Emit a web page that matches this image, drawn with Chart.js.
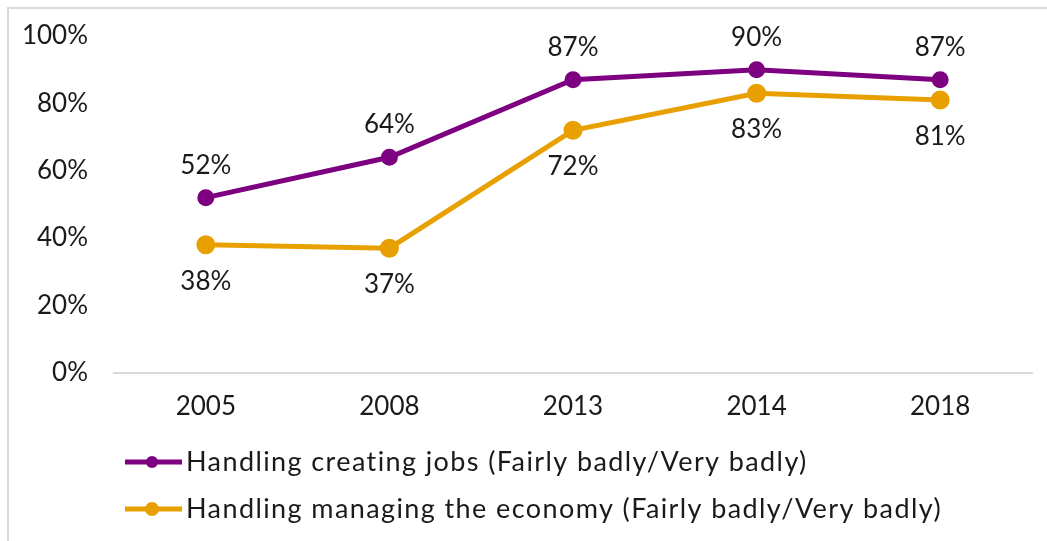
<!DOCTYPE html>
<html>
<head>
<meta charset="utf-8">
<script src="https://cdn.jsdelivr.net/npm/chart.js@4"></script>
<style>
  html, body { margin: 0; padding: 0; background: #fff; overflow: hidden; }
  #frame { position: absolute; left: 7px; top: 7px; width: 1100px; height: 600px; border: 2px solid #d9d9d9; }
  #wrap { position: absolute; left: 0; top: 0; width: 1047px; height: 541px; }
</style>
</head>
<body>
<div id="frame"></div>
<div id="wrap"><canvas id="trendChart"></canvas></div>
<script>
const years = ['2005', '2008', '2013', '2014', '2018'];
const jobsValues = [52, 64, 87, 90, 87];
const economyValues = [38, 37, 72, 83, 81];
const yTicks = [0, 20, 40, 60, 80, 100];
const seriesNames = [
    'Handling creating jobs (Fairly badly/Very badly)',
    'Handling managing the economy (Fairly badly/Very badly)'
];

const FONT = 'Lato, "DejaVu Sans", sans-serif';

// labels above for jobs, below for economy
const pointLabels = {
    id: 'pointLabels',
    afterDatasetsDraw(chart) {
        const ctx = chart.ctx;
        ctx.save();
        ctx.font = '26px ' + FONT;
        ctx.fillStyle = '#1a1a1a';
        ctx.textAlign = 'center';
        ctx.textBaseline = 'alphabetic';
        chart.data.datasets.forEach((ds, i) => {
            const meta = chart.getDatasetMeta(i);
            meta.data.forEach((pt, j) => {
                const dy = i === 0 ? -24 : 45;
                ctx.fillText(ds.data[j] + '%', pt.x, pt.y + dy);
            });
        });
        ctx.restore();
    }
};

const lineLegend = {
    id: 'lineLegend',
    afterDraw(chart) {
        const ctx = chart.ctx;
        ctx.save();
        ctx.font = '27px ' + FONT;
        ctx.letterSpacing = '1.4px';
        ctx.textBaseline = 'alphabetic';
        const rows = [462, 509];
        chart.data.datasets.forEach((ds, i) => {
            const y = rows[i];
            ctx.strokeStyle = ds.borderColor;
            ctx.lineWidth = 5;
            ctx.beginPath();
            ctx.moveTo(125, y);
            ctx.lineTo(182, y);
            ctx.stroke();
            ctx.fillStyle = ds.borderColor;
            ctx.beginPath();
            ctx.arc(152, y, ds.pointRadius, 0, Math.PI * 2);
            ctx.fill();
            ctx.fillStyle = '#1a1a1a';
            ctx.fillText(ds.label, 186, y + 9);
        });
        ctx.restore();
    }
};

const ctx = document.getElementById('trendChart').getContext('2d');
new Chart(ctx, {
    type: 'line',
    data: {
        labels: years,
        datasets: [{
            label: seriesNames[0],
            data: jobsValues,
            borderColor: '#7d0080',
            backgroundColor: '#7d0080',
            borderWidth: 5,
            pointRadius: 6,
            pointHoverRadius: 6,
            tension: 0
        }, {
            label: seriesNames[1],
            data: economyValues,
            borderColor: '#e8a000',
            backgroundColor: '#e8a000',
            borderWidth: 5,
            pointRadius: 7,
            pointHoverRadius: 7,
            tension: 0
        }]
    },
    options: {
        responsive: true,
        maintainAspectRatio: false,
        animation: false,
        layout: {
            padding: { top: 36, right: 15, bottom: 101, left: 0 }
        },
        plugins: {
            legend: { display: false },
            tooltip: { enabled: false }
        },
        scales: {
            x: {
                offset: true,
                grid: { display: false, drawTicks: false },
                border: { display: true, color: '#d9d9d9', width: 2 },
                ticks: {
                    color: '#1a1a1a',
                    font: { family: FONT, size: 26 },
                    padding: 18
                }
            },
            y: {
                min: 0,
                max: 100,
                afterFit(scale) {
                    scale.width = 114;
                    scale.paddingTop = 0;
                    scale.paddingBottom = 0;
                },
                afterBuildTicks(scale) { scale.ticks = yTicks.map(v => ({ value: v })); },
                grid: { display: false, drawTicks: false },
                border: { display: false },
                ticks: {
                    color: '#1a1a1a',
                    font: { family: FONT, size: 26 },
                    padding: 26,
                    callback: v => v + '%'
                }
            }
        }
    },
    plugins: [pointLabels, lineLegend]
});
</script>
</body>
</html>
